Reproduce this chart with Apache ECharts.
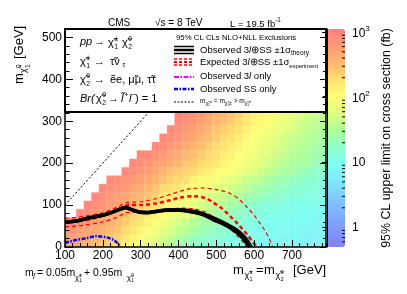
<!DOCTYPE html>
<html><head><meta charset="utf-8">
<script src="https://cdn.jsdelivr.net/npm/echarts@6/dist/echarts.min.js"></script>
<style>html,body{margin:0;padding:0;background:#fff}#c{width:407px;height:294px}</style>
</head><body><div id="c"></div>
<script>
// ---------------- data ----------------
// bin centres (GeV)
const xCenters = [100,120,140,160,180,200,220,240,260,280,300,320,340,360,380,400,420,440,460,480,500,520,540,560,580,600,620,640,660,680,700,720,740,760,780];
const yCenters = [0,20,40,60,80,100,120,140,160,180,200,220,240,260,280,300,320];
// log10 of the 95% CL upper limit on the cross section (fb), per column from m(chi0_1)=0 upward
const m100 = [2.75,2.8,2.85,2.95];
const m120 = [2.7,2.75,2.85,2.95];
const m140 = [2.65,2.7,2.75,2.85,2.95];
const m160 = [2.6,2.65,2.7,2.8,2.85,2.95];
const m180 = [2.5,2.55,2.65,2.7,2.8,2.9,2.95];
const m200 = [2.45,2.5,2.6,2.65,2.75,2.85,2.9,2.95];
const m220 = [2.35,2.45,2.5,2.6,2.65,2.75,2.8,2.9,2.95];
const m240 = [2.25,2.35,2.45,2.5,2.6,2.7,2.75,2.85,2.9];
const m260 = [2.1,2.2,2.3,2.4,2.5,2.6,2.7,2.8,2.85,2.95];
const m280 = [2.0,2.1,2.2,2.3,2.4,2.5,2.6,2.7,2.8,2.9,2.95];
const m300 = [1.9,2.0,2.1,2.2,2.25,2.4,2.55,2.65,2.75,2.8,2.9,2.95];
const m320 = [1.8,1.9,2.0,2.1,2.2,2.3,2.45,2.55,2.65,2.75,2.85,2.95];
const m340 = [1.7,1.8,1.9,2.0,2.1,2.2,2.35,2.45,2.55,2.65,2.75,2.85,2.95];
const m360 = [1.6,1.7,1.8,1.9,2.0,2.15,2.2,2.3,2.45,2.55,2.7,2.8,2.9,2.95];
const m380 = [1.5,1.6,1.7,1.8,1.9,2.05,2.15,2.25,2.35,2.45,2.6,2.7,2.8,2.9,2.95];
const m400 = [1.4,1.5,1.6,1.7,1.85,2.0,2.1,2.2,2.3,2.4,2.55,2.65,2.75,2.85,2.9,2.95,3.0];
const m420 = [1.3,1.4,1.55,1.65,1.8,1.9,2.0,2.1,2.25,2.35,2.45,2.55,2.65,2.75,2.8,2.9,2.95];
const m440 = [1.2,1.3,1.45,1.55,1.7,1.8,1.9,2.05,2.1,2.3,2.4,2.5,2.55,2.65,2.75,2.8,2.9];
const m460 = [1.15,1.25,1.35,1.45,1.6,1.7,1.8,1.95,2.05,2.2,2.3,2.4,2.5,2.55,2.65,2.75,2.8];
const m480 = [1.1,1.2,1.3,1.4,1.55,1.65,1.75,1.9,2.0,2.15,2.25,2.3,2.4,2.5,2.55,2.65,2.7];
const m500 = [1.05,1.15,1.25,1.35,1.45,1.55,1.7,1.8,1.95,2.05,2.2,2.25,2.3,2.4,2.45,2.55,2.6];
const m520 = [1.05,1.1,1.2,1.35,1.4,1.5,1.6,1.75,1.85,2.0,2.1,2.15,2.25,2.3,2.4,2.5,2.55];
const m540 = [1.0,1.05,1.15,1.25,1.3,1.4,1.55,1.7,1.8,1.95,2.05,2.1,2.15,2.25,2.3,2.4,2.45];
const m560 = [1.0,1.05,1.1,1.2,1.25,1.35,1.5,1.6,1.75,1.85,2.0,2.0,2.1,2.15,2.25,2.3,2.35];
const m580 = [1.0,1.0,1.05,1.1,1.2,1.25,1.4,1.55,1.65,1.8,1.9,1.95,2.0,2.05,2.15,2.2,2.25];
const m600 = [0.95,1.0,1.0,1.05,1.15,1.2,1.35,1.45,1.6,1.75,1.85,1.9,1.95,2.0,2.05,2.1,2.15];
const m620 = [0.95,0.95,1.0,1.05,1.1,1.15,1.3,1.4,1.55,1.65,1.75,1.8,1.85,1.9,1.95,2.05,2.1];
const m640 = [0.95,0.95,1.0,1.0,1.05,1.1,1.2,1.35,1.45,1.6,1.7,1.75,1.8,1.85,1.95,2.0,2.05];
const m660 = [0.9,0.95,0.95,1.0,1.05,1.1,1.2,1.3,1.4,1.5,1.6,1.65,1.75,1.75,1.85,1.9,1.95];
const m680 = [0.9,0.9,0.95,1.0,1.0,1.05,1.15,1.25,1.35,1.45,1.55,1.6,1.65,1.7,1.8,1.85,1.9];
const m700 = [0.9,0.9,0.95,0.95,1.0,1.05,1.1,1.2,1.3,1.45,1.5,1.55,1.6,1.65,1.75,1.8,1.85];
const m720 = [0.85,0.9,0.9,0.95,1.0,1.0,1.1,1.15,1.25,1.35,1.45,1.5,1.55,1.6,1.65,1.7,1.75];
const m740 = [0.85,0.85,0.9,0.95,0.95,1.0,1.05,1.15,1.2,1.3,1.45,1.45,1.5,1.55,1.6,1.65,1.7];
const m760 = [0.85,0.85,0.9,0.9,0.95,1.0,1.05,1.1,1.2,1.25,1.35,1.4,1.45,1.5,1.55,1.6,1.65];
const m780 = [0.85,0.85,0.9,0.9,0.95,1.0,1.05,1.1,1.15,1.2,1.3,1.35,1.4,1.45,1.5,1.55,1.6];

// exclusion contours [m(chi+-1)=m(chi0_2), m(chi0_1)]
const obsCentral = [[100,59],[130,62],[157,68],[184,73],[205,77],[228,84],[248,91],[261,94],[276,89],[298,83],[318,82],[342,85],[370,88],[404,88],[440,84],[465,78],[490,68],[515,58],[536,48],[555,37],[568,27],[578,16],[585,6],[589,0]];
const obsTheoryUp = [[100,62],[130,65],[157,71],[184,76],[205,80],[228,87],[248,94],[261,97],[276,92],[298,86],[318,85],[342,88],[370,91],[404,91],[440,88],[465,82],[490,73],[515,63],[536,53],[555,43],[570,32],[582,20],[590,9],[596,0]];
const obsTheoryDown = [[100,56],[130,59],[157,65],[184,70],[205,74],[228,81],[248,88],[261,91],[276,86],[298,80],[318,79],[342,82],[370,85],[404,85],[440,80],[465,74],[490,63],[515,53],[536,43],[553,32],[565,22],[574,12],[579,4],[581,0]];
const obs3lOnly = [[100,60],[130,63],[157,69],[184,74],[205,78],[228,85],[248,92],[261,95],[276,90],[298,84],[318,83],[342,86],[370,89],[404,89],[440,85],[465,79],[490,69],[515,59],[536,49],[555,38],[568,28],[578,17],[585,7],[590,0]];
const expCentral = [[100,58],[140,62],[180,69],[220,81],[250,95],[270,100],[300,100],[340,104],[380,112],[404,118],[440,121],[470,117],[492,106],[515,92],[536,74],[555,57],[570,42],[584,27],[596,13],[608,0]];
const expUp = [[100,68],[150,73],[200,82],[240,96],[262,106],[300,108],[340,115],[380,126],[420,137],[460,141],[500,137],[536,128],[560,114],[580,96],[600,76],[615,57],[628,40],[640,20],[649,0]];
const expDown = [[100,48],[150,52],[200,60],[240,72],[262,82],[290,83],[330,85],[370,89],[404,93],[440,91],[470,84],[492,72],[515,60],[530,48],[553,29],[570,12],[578,0]];
const ssOnly = [[100,10],[131,17],[157,21],[184,26],[210,23],[228,17],[240,8],[246,0]];
const diagonal = [[100,100],[520,520]];

// colour-bar tick labels and minor tick positions (fb)
const cbMin = 0.5, cbMax = 1120;
const cbMinorTicks = [0.6,0.7,0.8,0.9,2,3,4,5,6,7,8,9,20,30,40,50,60,70,80,90,200,300,400,500,600,700,800,900];
const palette = ['#8080ff','#8098ff','#80b0ff','#80ccff','#80eaff','#80fff0','#90ffc8','#b0ff98','#e0ff80','#ffff78','#ffdf70','#ffb870','#ff9a75','#ff7f7f'];

// ---------------- build ----------------
const columns = [m100,m120,m140,m160,m180,m200,m220,m240,m260,m280,m300,m320,m340,m360,m380,m400,m420,m440,m460,m480,m500,m520,m540,m560,m580,m600,m620,m640,m660,m680,m700,m720,m740,m760,m780];
const cells = [];
columns.forEach((col, i) => col.forEach((v, j) => cells.push([xCenters[i], yCenters[j], v])));

const FF = '"Liberation Sans", Arial, sans-serif';
const chart = echarts.init(document.getElementById('c'), null, {renderer: 'canvas'});

function cellItem(params, api) {
  const x = api.value(0), y = api.value(1);
  const p0 = api.coord([x - 10, y + 10]);
  const p1 = api.coord([x + 10, y - 10]);
  const cs = params.coordSys;
  const r = echarts.graphic.clipRectByRect(
    {x: p0[0], y: p0[1], width: p1[0] - p0[0], height: p1[1] - p0[1]},
    {x: cs.x, y: cs.y, width: cs.width, height: cs.height});
  if (!r) return;
  const c = api.visual('color');
  return {type: 'rect', shape: r, style: {fill: c, stroke: c, lineWidth: 0.3}};
}
function ln(data, color, width, dash, z) {
  return {type: 'line', data, xAxisIndex: 0, yAxisIndex: 0, symbol: 'none', smooth: 0.3,
    silent: true, z, lineStyle: {color, width, type: dash || 'solid'}};
}
function T(x, y, text, size, o) {
  o = o || {};
  return {type: 'text', x, y, z: 70, silent: true, rotation: o.rot || 0,
    style: {text, fontSize: size, fontFamily: FF, fontStyle: o.it ? 'italic' : 'normal',
      fill: '#000', align: o.align || 'left', verticalAlign: 'middle', rich: o.rich}};
}
function chi(arr, x, y, s, sup, sub) {
  arr.push(T(x, y, 'χ̃', s));
  const w = 0.56 * s, ss = s * 0.62;
  arr.push(T(x + w, y - 0.36 * s, sup, ss));
  arr.push(T(x + w, y + 0.34 * s, sub, ss));
}
function seg(x1, y1, x2, y2, color, w, dash) {
  return {type: 'line', z: 70, silent: true, shape: {x1, y1, x2, y2},
    style: {stroke: color, lineWidth: w, lineDash: dash || null}};
}

const g = [];
// legend box
g.push({type: 'rect', z: 50, silent: true, shape: {x: 65, y: 29, width: 261, height: 83},
  style: {fill: '#fff', stroke: '#000', lineWidth: 2}});
// top labels
g.push(T(108, 23, 'CMS', 10));
g.push(T(155, 23, '√s = 8 TeV', 10));
g.push(T(230, 23, '{n|L = 19.5 fb}{p|-1}', 10, {rich: {
  n: {fontSize: 9.5, fontFamily: FF, verticalAlign: 'bottom'},
  p: {fontSize: 6.5, fontFamily: FF, verticalAlign: 'bottom', padding: [0, 0, 6, 0]}}}));
// process text
g.push(T(80, 42, 'pp', 11, {it: true}));
g.push(T(94, 42, '→', 11));
chi(g, 108, 43, 11, '±', '1');
chi(g, 122, 43, 11, '0', '2');
chi(g, 80, 62, 11, '±', '1');
g.push(T(94, 62, '→', 11));
g.push(T(110, 62, 'τ̃ν', 11));
g.push(T(122.5, 65, 'τ', 7));
chi(g, 80, 80, 11, '0', '2');
g.push(T(94, 80, '→', 11));
g.push(T(110, 80, 'ẽe, μ̃μ, τ̃τ', 11));
g.push(T(80, 99, 'Br(', 11, {it: true}));
chi(g, 96, 99, 11, '0', '2');
g.push(T(108, 99, '→', 11));
g.push(T(121, 99, 'l̃', 11, {it: true}));
g.push(T(124.5, 95, '+', 7));
g.push(T(129, 99, 'l', 11, {it: true}));
g.push(T(131.5, 95, '−', 7));
g.push(T(135, 99, ') = 1', 11));
// legend entries
g.push(T(176, 38, '95% CL CLs NLO+NLL Exclusions', 7.8));
const rN = {fontSize: 9.5, fontFamily: FF, verticalAlign: 'bottom', padding: [0, 0, 2, 0]};
const rI = Object.assign({}, rN, {fontStyle: 'italic'});
const rS = {fontSize: 6.5, fontFamily: FF, verticalAlign: 'bottom'};
g.push(T(200, 51, '{n|Observed 3}{i|l}{n|⊕SS ±1σ}{s|theory}', 9.5, {rich: {n: rN, i: rI, s: rS}}));
g.push(T(200, 63, '{n|Expected 3}{i|l}{n|⊕SS ±1σ}{s|experiment}', 9.5, {rich: {n: rN, i: rI, s: {fontSize: 5.8, fontFamily: FF, verticalAlign: 'bottom'}}}));
g.push(T(200, 77, '{n|Observed 3}{i|l}{n| only}', 9.5, {rich: {n: rN, i: rI}}));
g.push(T(200, 89, 'Observed SS only', 9.5));
g.push(T(200, 102, '{a|m}{b|χ̃₂⁰}{a| = m}{b|χ̃₁±}{a| > m}{b|χ̃₁⁰}', 6.5, {rich: {
  a: {fontSize: 6.5, fontFamily: FF, verticalAlign: 'bottom', padding: [0, 0, 2, 0]},
  b: {fontSize: 5, fontFamily: FF, verticalAlign: 'bottom'}}}));
// legend samples
g.push(seg(174, 46.5, 194, 46.5, '#000', 1.5));
g.push(seg(174, 50, 194, 50, '#000', 2.5));
g.push(seg(174, 53.5, 194, 53.5, '#000', 1.5));
g.push(seg(174, 59, 194, 59, '#ff0000', 1.5, [3, 2]));
g.push(seg(174, 62, 194, 62, '#ff0000', 2, [3, 2]));
g.push(seg(174, 65, 194, 65, '#ff0000', 1.5, [3, 2]));
g.push(seg(174, 77, 194, 77, '#ff00ff', 2, [5, 1.5, 1.5, 1.5]));
g.push(seg(174, 89, 194, 89, '#0000ff', 2.5, [4, 1.5, 1.5, 1.5]));
g.push(seg(174, 102, 194, 102, '#000', 1, [2, 1.5]));
// y axis title (rotated)
g.push({type: 'group', x: 19, y: 84, rotation: Math.PI / 2, children: [
  T(0, 0, 'm', 13), T(11, 5, 'χ̃', 9), T(16, 0, '0', 6.5), T(16, 9, '1', 6.5), T(25, 0, '[GeV]', 13)]});
// x axis title
g.push(T(233, 270, 'm', 13));
chi(g, 244.5, 276, 9, '±', '1');
g.push(T(256, 270, '=', 13));
g.push(T(264, 270, 'm', 13));
chi(g, 275.5, 276, 9, '0', '2');
g.push(T(293, 270, '[GeV]', 13));
// mass relation text
g.push(T(25, 273, 'm', 10.5));
g.push(T(33, 277, 'l̃', 7.5, {it: true}));
g.push(T(37, 273, '= 0.05m', 10.5));
chi(g, 75, 278, 7.5, '±', '1');
g.push(T(84, 273, '+ 0.95m', 10.5));
chi(g, 127, 278, 7.5, '0', '1');
// colour bar title
g.push(T(387, 138, '95% CL upper limit on cross section (fb)', 12.4, {rot: Math.PI / 2, align: 'center'}));

const axCommon = {axisLabel: {show: false}, splitLine: {show: false}, z: 60};
const option = {
  animation: false,
  grid: [
    {left: 65, top: 29, width: 261, height: 218},
    {left: 327, top: 29, width: 18, height: 218}
  ],
  xAxis: [
    Object.assign({}, axCommon, {gridIndex: 0, type: 'value', min: 100, max: 790, interval: 100, position: 'bottom',
      axisLine: {lineStyle: {color: '#000', width: 1.5}},
      axisTick: {inside: true, length: 7, lineStyle: {color: '#000'}},
      axisLabel: {show: true, fontSize: 12, fontFamily: FF, color: '#000', margin: 3, showMaxLabel: false}}),
    Object.assign({}, axCommon, {gridIndex: 0, type: 'value', min: 100, max: 790, interval: 20, position: 'bottom',
      axisLine: {show: false}, axisTick: {inside: true, length: 4, lineStyle: {color: '#000'}}}),
    {gridIndex: 1, type: 'value', min: 0, max: 1, show: false}
  ],
  yAxis: [
    Object.assign({}, axCommon, {gridIndex: 0, type: 'value', min: 0, max: 520, interval: 100, position: 'left',
      axisLine: {show: true, lineStyle: {color: '#000', width: 1.5}},
      axisTick: {inside: true, length: 8, lineStyle: {color: '#000'}},
      axisLabel: {show: true, fontSize: 12, fontFamily: FF, color: '#000', margin: 3, showMaxLabel: false}}),
    Object.assign({}, axCommon, {gridIndex: 0, type: 'value', min: 0, max: 520, interval: 20, position: 'left',
      axisLine: {show: false}, axisTick: {inside: true, length: 4.5, lineStyle: {color: '#000'}}}),
    Object.assign({}, axCommon, {gridIndex: 0, type: 'value', min: 0, max: 520, interval: 100, position: 'right',
      axisLine: {show: true, lineStyle: {color: '#000', width: 1.5}},
      axisTick: {inside: true, length: 6, lineStyle: {color: '#000'}}}),
    Object.assign({}, axCommon, {gridIndex: 0, type: 'value', min: 0, max: 520, interval: 20, position: 'right',
      axisLine: {show: false}, axisTick: {inside: true, length: 3, lineStyle: {color: '#000'}}}),
    Object.assign({}, axCommon, {gridIndex: 1, type: 'log', logBase: 10, min: cbMin, max: cbMax, position: 'right',
      axisLine: {show: true, lineStyle: {color: '#000', width: 1}},
      axisTick: {inside: true, length: 5, lineStyle: {color: '#000'}},
      axisLabel: {show: true, margin: 7, showMinLabel: false, showMaxLabel: false,
        formatter: function (v) {
          const l = Math.log10(v), e = Math.round(l);
          if (Math.abs(l - e) > 1e-6) return '';
          if (e === 0) return '{b|1}';
          if (e === 1) return '{b|10}';
          return '{b|10}{s|' + e + '}';
        },
        rich: {b: {fontSize: 12, fontFamily: FF, color: '#000', verticalAlign: 'bottom'},
               s: {fontSize: 8, fontFamily: FF, color: '#000', verticalAlign: 'bottom', padding: [0, 0, 7, 0]}}}})
  ],
  visualMap: {
    type: 'continuous', min: Math.log10(cbMin), max: Math.log10(cbMax), dimension: 2, seriesIndex: 0,
    orient: 'vertical', left: 327, top: 29, itemWidth: 18, itemHeight: 218, padding: 0,
    calculable: false, text: null, inRange: {color: palette}, hoverLink: false
  },
  series: [
    {type: 'custom', xAxisIndex: 0, yAxisIndex: 0, data: cells, renderItem: cellItem, z: 1, silent: true,
      encode: {x: 0, y: 1}},
    ln(diagonal, '#000', 1, [2, 2], 3),
    ln(ssOnly, '#0000ff', 2.5, [4, 1.5, 1.5, 1.5], 4),
    ln(expUp, '#ff0000', 1.2, [4, 3], 4),
    ln(expDown, '#ff0000', 1.2, [4, 3], 4),
    ln(expCentral, '#ff0000', 2.5, [4, 3], 4),
    ln(obs3lOnly, '#ff00ff', 1.5, [6, 2, 1.5, 2], 5),
    ln(obsTheoryUp, '#000', 1.2, null, 6),
    ln(obsTheoryDown, '#000', 1.2, null, 6),
    ln(obsCentral, '#000', 3.5, null, 6),
    {type: 'custom', xAxisIndex: 2, yAxisIndex: 4, data: cbMinorTicks.map(v => [1, v]), z: 61, silent: true,
      renderItem: function (params, api) {
        const p = api.coord([api.value(0), api.value(1)]);
        return {type: 'line', shape: {x1: p[0], y1: p[1], x2: p[0] - 3, y2: p[1]}, style: {stroke: '#000', lineWidth: 1}};
      }}
  ],
  graphic: g
};
chart.setOption(option);
</script>
</body></html>
